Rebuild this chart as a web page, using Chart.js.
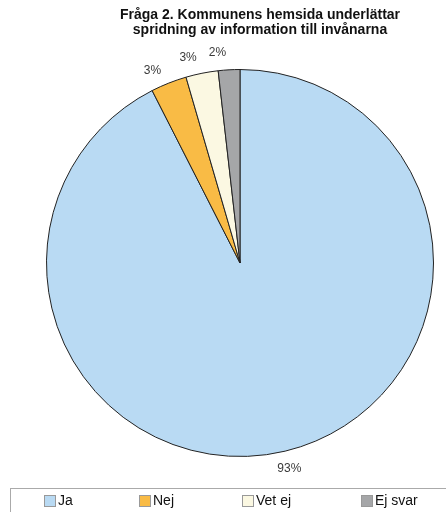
<!DOCTYPE html>
<html>
<head>
<meta charset="utf-8">
<script src="https://cdn.jsdelivr.net/npm/chart.js@4/dist/chart.umd.min.js"></script>
<style>
  html, body { margin: 0; padding: 0; background: #fff; }
  #wrap { width: 446px; height: 512px; position: relative; }
</style>
</head>
<body>
<div id="wrap"><canvas id="pie"></canvas></div>
<script>
// data
const categories = ['Ja', 'Nej', 'Vet ej', 'Ej svar'];
const shares = [92.5, 3.0, 2.7, 1.8];
const colours = ['#b9daf3', '#f9bb45', '#fbf8e2', '#a5a6a8'];
const titleLines = ['Fråga 2. Kommunens hemsida underlättar', 'spridning av information till invånarna'];

// percent labels just outside each slice
const outsideLabels = {
  id: 'outsideLabels',
  afterDatasetsDraw(chart) {
    const c = chart.ctx;
    const meta = chart.getDatasetMeta(0);
    c.save();
    c.font = '12px "Liberation Sans", Arial, sans-serif';
    c.fillStyle = '#3a3a3a';
    c.textAlign = 'center';
    c.textBaseline = 'middle';
    meta.data.forEach(function(arc, i){
      const p = arc.getProps(['x','y','startAngle','endAngle','outerRadius'], true);
      const mid = (p.startAngle + p.endAngle) / 2 - (i > 0 ? 0.05 : 0);
      const r = p.outerRadius + 18;
      c.fillText(Math.round(shares[i]) + '%', p.x + Math.cos(mid) * r, p.y + Math.sin(mid) * r);
    });
    c.restore();
  }
};

// title and boxed legend
const frame = {
  id: 'frame',
  afterDraw(chart) {
    const c = chart.ctx;
    c.save();
    c.fillStyle = '#111';
    c.font = 'bold 14px "Liberation Sans", Arial, sans-serif';
    c.textAlign = 'center';
    c.textBaseline = 'middle';
    c.fillText(titleLines[0], 260, 15);
    c.fillText(titleLines[1], 260, 30);

    c.strokeStyle = '#aaa';
    c.lineWidth = 1;
    c.strokeRect(10.5, 488.5, 450, 40);

    const xs = [44, 139, 242, 361];
    c.font = '14px "Liberation Sans", Arial, sans-serif';
    c.textAlign = 'left';
    categories.forEach(function(lab, i){
      c.fillStyle = colours[i];
      c.fillRect(xs[i], 495, 12, 12);
      c.strokeStyle = '#999';
      c.strokeRect(xs[i] + 0.5, 495.5, 11, 11);
      c.fillStyle = '#111';
      c.fillText(lab, xs[i] + 14, 501);
    });
    c.restore();
  }
};

try{
  const ctx = document.getElementById('pie').getContext('2d');
  const data = {
    labels: categories,
    datasets: [{
      data: shares,
      backgroundColor: colours,
      borderColor: '#222',
      borderWidth: 1
    }]
  };
  const myChart = new Chart(ctx, {
    type: 'pie',
    data: data,
    options: {
      responsive: true,
      maintainAspectRatio: false,
      animation: false,
      layout: { padding: { top: 67, bottom: 53, left: 46, right: 12 } },
      plugins: {
        legend: { display: false },
        title: { display: false },
        tooltip: { enabled: false }
      }
    },
    plugins: [outsideLabels, frame]
  });
}catch(e){
  console.log("chart error", e);
}
</script>
</body>
</html>
